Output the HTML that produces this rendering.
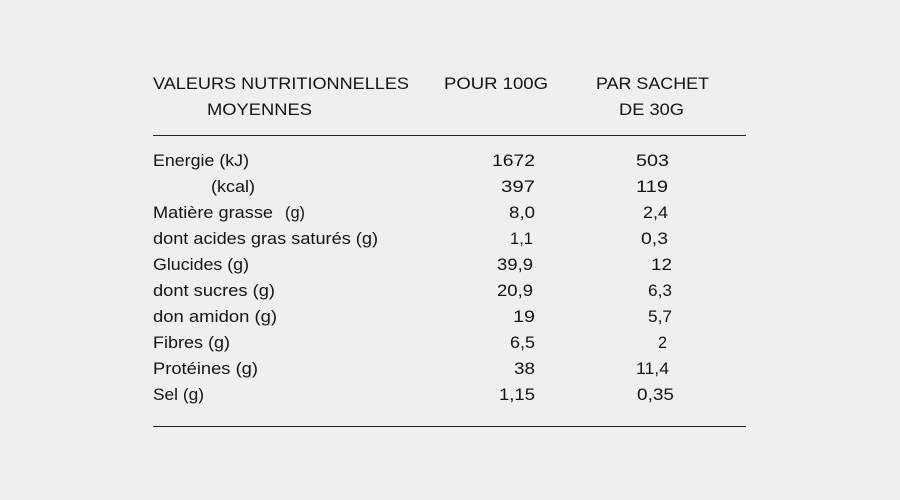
<!DOCTYPE html>
<html><head><meta charset="utf-8"><style>
html,body{margin:0;padding:0;background:#efefef;}
svg{display:block;}
text{font-family:"Liberation Sans",sans-serif;font-size:17px;fill:#141414;}
</style></head><body>
<svg width="900" height="500" viewBox="0 0 900 500">
<rect width="900" height="500" fill="#efefef"/>
<text x="153" y="89" textLength="256" lengthAdjust="spacingAndGlyphs">VALEURS NUTRITIONNELLES</text>
<text x="207" y="115" textLength="105" lengthAdjust="spacingAndGlyphs">MOYENNES</text>
<text x="444" y="89" textLength="104" lengthAdjust="spacingAndGlyphs">POUR 100G</text>
<text x="596" y="89" textLength="113" lengthAdjust="spacingAndGlyphs">PAR SACHET</text>
<text x="619" y="115" textLength="65" lengthAdjust="spacingAndGlyphs">DE 30G</text>
<line x1="153" y1="135.5" x2="746" y2="135.5" stroke="#222" stroke-width="1"/>
<line x1="153" y1="426.5" x2="746" y2="426.5" stroke="#222" stroke-width="1"/>
<text x="153" y="166" textLength="96" lengthAdjust="spacingAndGlyphs">Energie (kJ)</text>
<text x="211" y="192" textLength="44" lengthAdjust="spacingAndGlyphs">(kcal)</text>
<text x="153" y="218" textLength="120" lengthAdjust="spacingAndGlyphs">Matière grasse</text>
<text x="285" y="218" textLength="20" lengthAdjust="spacingAndGlyphs">(g)</text>
<text x="153" y="244" textLength="225" lengthAdjust="spacingAndGlyphs">dont acides gras saturés (g)</text>
<text x="153" y="270" textLength="96" lengthAdjust="spacingAndGlyphs">Glucides (g)</text>
<text x="153" y="296" textLength="122" lengthAdjust="spacingAndGlyphs">dont sucres (g)</text>
<text x="153" y="322" textLength="124" lengthAdjust="spacingAndGlyphs">don amidon (g)</text>
<text x="153" y="348" textLength="77" lengthAdjust="spacingAndGlyphs">Fibres (g)</text>
<text x="153" y="374" textLength="105" lengthAdjust="spacingAndGlyphs">Protéines (g)</text>
<text x="153" y="400" textLength="51" lengthAdjust="spacingAndGlyphs">Sel (g)</text>
<text x="492" y="166" textLength="43" lengthAdjust="spacingAndGlyphs">1672</text>
<text x="501" y="192" textLength="34" lengthAdjust="spacingAndGlyphs">397</text>
<text x="509" y="218" textLength="26" lengthAdjust="spacingAndGlyphs">8,0</text>
<text x="510" y="244" textLength="23" lengthAdjust="spacingAndGlyphs">1,1</text>
<text x="497" y="270" textLength="36" lengthAdjust="spacingAndGlyphs">39,9</text>
<text x="497" y="296" textLength="36" lengthAdjust="spacingAndGlyphs">20,9</text>
<text x="513" y="322" textLength="22" lengthAdjust="spacingAndGlyphs">19</text>
<text x="510" y="348" textLength="25" lengthAdjust="spacingAndGlyphs">6,5</text>
<text x="514" y="374" textLength="21" lengthAdjust="spacingAndGlyphs">38</text>
<text x="499" y="400" textLength="36" lengthAdjust="spacingAndGlyphs">1,15</text>
<text x="636" y="166" textLength="33" lengthAdjust="spacingAndGlyphs">503</text>
<text x="636" y="192" textLength="32" lengthAdjust="spacingAndGlyphs">119</text>
<text x="643" y="218" textLength="25" lengthAdjust="spacingAndGlyphs">2,4</text>
<text x="641" y="244" textLength="27" lengthAdjust="spacingAndGlyphs">0,3</text>
<text x="651" y="270" textLength="21" lengthAdjust="spacingAndGlyphs">12</text>
<text x="648" y="296" textLength="24" lengthAdjust="spacingAndGlyphs">6,3</text>
<text x="648" y="322" textLength="24" lengthAdjust="spacingAndGlyphs">5,7</text>
<text x="658" y="348" textLength="9" lengthAdjust="spacingAndGlyphs">2</text>
<text x="636" y="374" textLength="33" lengthAdjust="spacingAndGlyphs">11,4</text>
<text x="637" y="400" textLength="37" lengthAdjust="spacingAndGlyphs">0,35</text>
</svg>
</body></html>
